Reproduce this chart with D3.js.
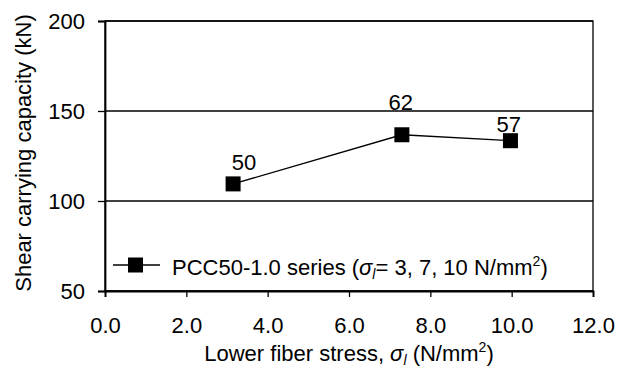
<!DOCTYPE html>
<html>
<head>
<meta charset="utf-8">
<script src="https://cdn.jsdelivr.net/npm/d3@7"></script>
<style>
  body { margin: 0; background: #fff; }
  text { font-family: Arial, "Liberation Sans", sans-serif; fill: #000; }
</style>
</head>
<body>
<div id="chart"></div>
<script>
var stress = [3.15, 7.3, 9.97];
var capacity = [109.5, 136.8, 133.5];
var labels = ["50", "62", "57"];
// where each data label sits, in data units
var labelX = [3.42, 7.27, 9.93];
var labelY = [117.2, 150.6, 138.3];
var xTicks = [0, 2, 4, 6, 8, 10, 12];
var yTicks = [50, 100, 150, 200];

var W = 629, H = 370;
var m = { left: 105, right: 36, top: 21, bottom: 79 };
var fs = "22px", fsSmall = "14px";

var svg = d3.select("#chart").append("svg")
    .attr("width", W)
    .attr("height", H);

var x = d3.scaleLinear().domain([0, 12]).range([m.left, W - m.right]);
var y = d3.scaleLinear().domain([50, 200]).range([H - m.bottom, m.top]);

// grid lines
svg.append("g")
    .selectAll("line")
    .data(yTicks)
    .enter().append("line")
    .attr("x1", x(0)).attr("x2", x(12))
    .attr("y1", function (d) { return y(d) })
    .attr("y2", function (d) { return y(d) })
    .attr("stroke", "#000")
    .attr("stroke-width", 1.3);

// frame
svg.append("rect")
    .attr("x", x(0)).attr("y", y(200))
    .attr("width", x(12) - x(0))
    .attr("height", y(50) - y(200))
    .attr("fill", "none")
    .attr("stroke", "#000")
    .attr("stroke-width", 1.3);

var xAxis = svg.append("g")
    .attr("transform", "translate(0," + y(50) + ")")
    .call(d3.axisBottom(x).tickValues(xTicks).tickSize(6).tickPadding(20)
        .tickFormat(d3.format(".1f")));
var yAxis = svg.append("g")
    .attr("transform", "translate(" + x(0) + ",0)")
    .call(d3.axisLeft(y).tickValues(yTicks).tickSize(7).tickPadding(13));

[xAxis, yAxis].forEach(function (a) {
    a.select(".domain").attr("stroke", "#000").attr("stroke-width", 1.8);
    a.selectAll(".tick line").attr("stroke", "#000").attr("stroke-width", 1.3);
    a.selectAll("text").style("font-size", fs).attr("fill", "#000")
        .style("font-family", "Arial, 'Liberation Sans', sans-serif");
});
xAxis.selectAll("text").attr("dy", "0.71em");

var pts = stress.map(function (s, i) { return [s, capacity[i]] });

svg.append("path")
    .datum(pts)
    .attr("fill", "none")
    .attr("stroke", "#000")
    .attr("stroke-width", 1.3)
    .attr("d", d3.line().x(function (d) { return x(d[0]) }).y(function (d) { return y(d[1]) }));

svg.append("g")
    .selectAll("rect")
    .data(pts)
    .enter().append("rect")
    .attr("x", function (d) { return x(d[0]) - 7.5 })
    .attr("y", function (d) { return y(d[1]) - 7.5 })
    .attr("width", 15).attr("height", 15)
    .attr("fill", "#000");

svg.append("g")
    .selectAll("text")
    .data(labels)
    .enter().append("text")
    .attr("x", function (d, i) { return x(labelX[i]) })
    .attr("y", function (d, i) { return y(labelY[i]) })
    .attr("text-anchor", "middle")
    .style("font-size", fs)
    .text(function (d) { return d });

// legend
var lg = svg.append("g").attr("transform", "translate(113,265)");
lg.append("line").attr("x1", 0).attr("x2", 47).attr("y1", 0).attr("y2", 0)
    .attr("stroke", "#000").attr("stroke-width", 1.3);
lg.append("rect").attr("x", 15).attr("y", -7.5).attr("width", 15).attr("height", 15).attr("fill", "#000");
var lt = lg.append("text").attr("x", 59).attr("y", 10).style("font-size", fs);
lt.append("tspan").text("PCC50-1.0 series (");
lt.append("tspan").style("font-style", "italic").text("σ");
lt.append("tspan").style("font-style", "italic").style("font-size", fsSmall).attr("dy", 4).text("l");
lt.append("tspan").attr("dy", -4).text("= 3, 7, 10 N/mm");
lt.append("tspan").style("font-size", fsSmall).attr("dy", -9).text("2");
lt.append("tspan").attr("dy", 9).text(")");

// axis titles
var xt = svg.append("text")
    .attr("x", 349)
    .attr("y", 361)
    .attr("text-anchor", "middle")
    .style("font-size", fs);
xt.append("tspan").text("Lower fiber stress, ");
xt.append("tspan").style("font-style", "italic").text("σ");
xt.append("tspan").style("font-style", "italic").style("font-size", fsSmall).attr("dy", 4).text("l");
xt.append("tspan").attr("dy", -4).text(" (N/mm");
xt.append("tspan").style("font-size", fsSmall).attr("dy", -9).text("2");
xt.append("tspan").attr("dy", 9).text(")");

svg.append("text")
    .attr("transform", "translate(31,153) rotate(-90)")
    .attr("text-anchor", "middle")
    .style("font-size", fs)
    .text("Shear carrying capacity (kN)");
</script>
</body>
</html>
